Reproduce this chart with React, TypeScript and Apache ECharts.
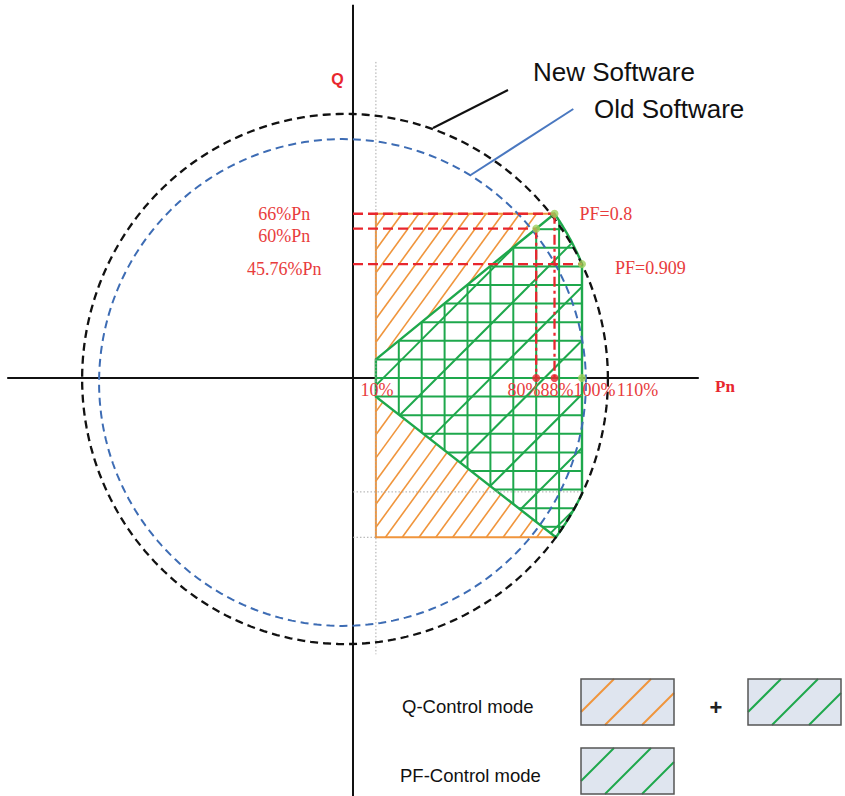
import { useEffect, useRef } from 'react';
import * as echarts from 'echarts';

type Pt = [number, number];

// ---------------- data (all values in % of Pn) ----------------
const xExtent = [-154.15, 214.85];
const yExtent = [-167.94, 151.87];
const pAxisExtent = [-151, 151];
const qAxisExtent = [-168, 150];

const pTickValues = [10, 80, 88, 100, 110];
const pTickLabels = ['10%', '80%', '88%', '100%', '110%'];

const qLevelValues = [66, 60, 45.76];
const qLevelPEnds = [88, 80, 100];
const qLevelLabels = ['66%Pn', '60%Pn', '45.76%Pn'];
const qLevelLabelP = -30;

const pfPointP = [88, 100];
const pfPointQ = [66, 45.76];
const pfLabels = ['PF=0.8', 'PF=0.909'];

const oldLimitP = [80];
const oldLimitQ = [60];

// Q-control region (box)
const qControlP = [10, 88];
const qControlQ = [-64, 66];

// PF-control region (PF=0.8 lines start at P=10, right edge at P=100)
const pfControlPMin = 10;
const pfControlQAtPMin = [7.5, -7.5];
const pfControlPMax = 100;

// capability circles as drawn: [centre P, centre Q, radius along P, radius along Q]
const newCircle = [-3.49, -0.4, 114.8, 106.5];
const oldCircle = [-4.59, -1.81, 106.3, 97.8];

// dotted guide lines
const guideP = 10;
const guidePSpanQ = [127, -111];
const guideQValues = [-45.76, -64];
const guideQEndsP = [100, 10];

// ---------------- styles ----------------
const COL = {
  axis: '#111111',
  black: '#111111',
  blue: '#3d6cb4',
  red: '#e8262e',
  redText: '#e83c3c',
  orange: '#f0953c',
  green: '#1ea84c',
  dotGreen: '#9fd05a',
  grey: '#a9a9a9',
  legendFill: '#dfe5ef',
  legendStroke: '#555555',
};
const SERIF = '"Liberation Serif", "Times New Roman", serif';
const LABEL_FONT = `18px ${SERIF}`;
const TICK_FONT = `18px ${SERIF}`;
const SANS = '"Liberation Sans", Arial, sans-serif';
const pTickLabelDx = [1, -12.2, 2.5, 12.5, 32.6];
const qLevelLabelDy = [0, 7, 5];
const pfLabelOffset: Pt[] = [[25, 0], [33, 4]];

// ---------------- geometry helpers ----------------
function clipToConvex(p0: Pt, p1: Pt, poly: Pt[]): [Pt, Pt] | null {
  let area = 0;
  const n = poly.length;
  for (let i = 0; i < n; i++) {
    const a = poly[i], b = poly[(i + 1) % n];
    area += a[0] * b[1] - b[0] * a[1];
  }
  const s = area > 0 ? 1 : -1;
  const d = [p1[0] - p0[0], p1[1] - p0[1]];
  let tE = 0, tL = 1;
  for (let i = 0; i < n; i++) {
    const a = poly[i], b = poly[(i + 1) % n];
    const nx = -s * (b[1] - a[1]);
    const ny = s * (b[0] - a[0]);
    const num = nx * (p0[0] - a[0]) + ny * (p0[1] - a[1]);
    const den = nx * d[0] + ny * d[1];
    if (Math.abs(den) < 1e-9) {
      if (num < 0) return null;
      continue;
    }
    const t = -num / den;
    if (den > 0) tE = Math.max(tE, t);
    else tL = Math.min(tL, t);
    if (tE > tL) return null;
  }
  return [
    [p0[0] + tE * d[0], p0[1] + tE * d[1]],
    [p0[0] + tL * d[0], p0[1] + tL * d[1]],
  ];
}

function hatch(poly: Pt[], angleDeg: number, spacing: number, anchor: Pt): [Pt, Pt][] {
  const th = (angleDeg * Math.PI) / 180;
  const d: Pt = [Math.cos(th), -Math.sin(th)];
  const m: Pt = [Math.sin(th), Math.cos(th)];
  const proj = poly.map((p) => p[0] * m[0] + p[1] * m[1]);
  const cmin = Math.min(...proj), cmax = Math.max(...proj);
  const c0 = anchor[0] * m[0] + anchor[1] * m[1];
  const k0 = Math.ceil((cmin - c0) / spacing), k1 = Math.floor((cmax - c0) / spacing);
  const out: [Pt, Pt][] = [];
  const L = 3000;
  for (let k = k0; k <= k1; k++) {
    const c = c0 + k * spacing;
    const base: Pt = [c * m[0], c * m[1]];
    const seg = clipToConvex(
      [base[0] - L * d[0], base[1] - L * d[1]],
      [base[0] + L * d[0], base[1] + L * d[1]],
      poly
    );
    if (seg) out.push(seg);
  }
  return out;
}

const lineEl = (a: Pt, b: Pt, style: any) => ({
  type: 'line',
  shape: { x1: a[0], y1: a[1], x2: b[0], y2: b[1] },
  style,
});

const ellipseData = (c: number[], n = 240): Pt[] => {
  const pts: Pt[] = [];
  for (let i = 0; i < n; i++) {
    const t = (i / n) * Math.PI * 2;
    pts.push([c[0] + c[2] * Math.cos(t), c[1] + c[3] * Math.sin(t)]);
  }
  return pts;
};

const nc = newCircle;
const circleP = (q: number) =>
  nc[0] + nc[2] * Math.sqrt(Math.max(0, 1 - ((q - nc[1]) / nc[3]) ** 2));
const circleQ = (p: number, sign: number) =>
  nc[1] + sign * nc[3] * Math.sqrt(Math.max(0, 1 - ((p - nc[0]) / nc[2]) ** 2));
const arcBetween = (a: Pt, b: Pt, n = 30): Pt[] => {
  const ang = (p: Pt) => Math.atan2((p[1] - nc[1]) / nc[3], (p[0] - nc[0]) / nc[2]);
  const rn = (p: Pt) => Math.hypot((p[0] - nc[0]) / nc[2], (p[1] - nc[1]) / nc[3]);
  const a0 = ang(a), a1 = ang(b), r0 = rn(a), r1 = rn(b);
  const res: Pt[] = [];
  for (let i = 1; i < n; i++) {
    const f = i / n;
    const t = a0 + (a1 - a0) * f;
    const r = r0 + (r1 - r0) * f;
    res.push([nc[0] + r * nc[2] * Math.cos(t), nc[1] + r * nc[3] * Math.sin(t)]);
  }
  return res;
};

function pfPolygonData(): Pt[] {
  const A: Pt = [pfControlPMin, pfControlQAtPMin[0]];
  const B: Pt = [pfPointP[0], pfPointQ[0]];
  const C: Pt = [pfPointP[1], pfPointQ[1]];
  const D: Pt = [pfControlPMax, circleQ(pfControlPMax, -1)];
  const E: Pt = [circleP(qControlQ[0]), qControlQ[0]];
  const F: Pt = [pfControlPMin, pfControlQAtPMin[1]];
  return [A, B, ...arcBetween(B, C), C, D, ...arcBetween(D, E), E, F];
}

// ---------------- render items ----------------
const renderAxes = (_p: any, api: any) => {
  const c = (v: number[]) => api.coord(v);
  const st = { stroke: COL.axis, lineWidth: 2 };
  return {
    type: 'group',
    children: [
      lineEl(c([pAxisExtent[0], 0]), c([pAxisExtent[1], 0]), st),
      lineEl(c([0, qAxisExtent[0]]), c([0, qAxisExtent[1]]), st),
    ],
  };
};

const renderQControl = (_p: any, api: any) => {
  const c = (v: number[]) => api.coord(v) as Pt;
  const xE = circleP(qControlQ[0]);
  const poly: Pt[] = [
    c([qControlP[0], qControlQ[1]]),
    c([qControlP[1], qControlQ[1]]),
    c([xE, qControlQ[0]]),
    c([qControlP[0], qControlQ[0]]),
  ];
  const segs = hatch(poly, 54, 13.6, [376.7, 271.7]);
  const st = { stroke: COL.orange, lineWidth: 1.6 };
  const children: any[] = segs.map((s) => lineEl(s[0], s[1], st));
  children.push({
    type: 'polyline',
    shape: {
      points: [
        c([qControlP[1], qControlQ[1]]),
        c([qControlP[0], qControlQ[1]]),
        c([qControlP[0], qControlQ[0]]),
        c([xE, qControlQ[0]]),
      ],
    },
    style: { stroke: COL.orange, lineWidth: 2, fill: 'none' },
  });
  return { type: 'group', children };
};

const renderPFControl = (_p: any, api: any) => {
  const c = (v: number[]) => api.coord(v) as Pt;
  const poly = pfPolygonData().map(c);
  const x10 = c([pfControlPMin, 0])[0];
  const x100 = c([pfControlPMax, 0])[0];
  const y0 = c([0, 0])[1];
  const st = { stroke: COL.green, lineWidth: 2 };
  const children: any[] = [
    { type: 'polygon', shape: { points: poly }, style: { fill: '#ffffff', stroke: 'none' } },
  ];
  const fams = [
    hatch(poly, 90, (x100 - x10) / 9, [x10, 0]),
    hatch(poly, 0, 18.6, [0, y0]),
    hatch(poly, 45, 38, [430, 385]),
  ];
  fams.forEach((f) => f.forEach((s) => children.push(lineEl(s[0], s[1], st))));
  children.push({
    type: 'polygon',
    shape: { points: poly },
    style: { fill: 'none', stroke: COL.green, lineWidth: 2.4 },
  });
  return { type: 'group', children };
};

const renderGuides = (_p: any, api: any) => {
  const c = (v: number[]) => api.coord(v) as Pt;
  const st = { stroke: COL.grey, lineWidth: 1, lineDash: [1.5, 2] };
  const children: any[] = [lineEl(c([guideP, guidePSpanQ[0]]), c([guideP, guidePSpanQ[1]]), st)];
  guideQValues.forEach((q, i) => children.push(lineEl(c([0, q]), c([guideQEndsP[i], q]), st)));
  return { type: 'group', children };
};

const renderCircles = (_p: any, api: any) => {
  const c = (v: number[]) => api.coord(v) as Pt;
  return {
    type: 'group',
    children: [
      {
        type: 'polygon',
        shape: { points: ellipseData(oldCircle).map(c) },
        style: { fill: 'none', stroke: COL.blue, lineWidth: 2, lineDash: [8, 5] },
      },
      {
        type: 'polygon',
        shape: { points: ellipseData(newCircle).map(c) },
        style: { fill: 'none', stroke: COL.black, lineWidth: 2.3, lineDash: [8, 5] },
      },
    ],
  };
};

const renderRedLines = (_p: any, api: any) => {
  const c = (v: number[]) => api.coord(v) as Pt;
  const dash = { stroke: COL.red, lineWidth: 2.3, lineDash: [10, 5] };
  const dashDot = { stroke: COL.red, lineWidth: 2.3, lineDash: [10, 4, 3, 4] };
  const children: any[] = qLevelValues.map((q, i) => lineEl(c([0, q]), c([qLevelPEnds[i], q]), dash));
  children.push(lineEl(c([oldLimitP[0], oldLimitQ[0]]), c([oldLimitP[0], 0]), dashDot));
  children.push(lineEl(c([pfPointP[0], pfPointQ[0]]), c([pfPointP[0], 0]), dashDot));
  return { type: 'group', children };
};

const renderLabels = (_p: any, api: any) => {
  const c = (v: number[]) => api.coord(v) as Pt;
  const txt = (x: number, y: number, text: string, align: string, font: string) => ({
    type: 'text',
    x,
    y,
    style: {
      text,
      fill: COL.redText,
      font,
      align,
      verticalAlign: 'middle',
      textAlign: align,
      textVerticalAlign: 'middle',
    },
  });
  const children: any[] = [];
  pTickValues.forEach((v, i) => {
    const p = c([v, 0]);
    children.push(txt(p[0] + pTickLabelDx[i], p[1] + 12, pTickLabels[i], 'center', TICK_FONT));
  });
  qLevelValues.forEach((q, i) => {
    const p = c([qLevelLabelP, q]);
    children.push(txt(p[0], p[1] + qLevelLabelDy[i], qLevelLabels[i], 'center', LABEL_FONT));
  });
  pfLabels.forEach((l, i) => {
    const p = c([pfPointP[i], pfPointQ[i]]);
    children.push(txt(p[0] + pfLabelOffset[i][0], p[1] + pfLabelOffset[i][1], l, 'left', LABEL_FONT));
  });
  return { type: 'group', children };
};

const custom = (name: string, z: number, renderItem: any) => ({
  type: 'custom',
  name,
  z,
  silent: true,
  clip: false,
  data: [[0, 0]],
  renderItem,
});

// ---------------- legend & annotations (layout) ----------------
const legendBox = (x: number, y: number, stroke: string) => {
  const w = 93, h = 46;
  const children: any[] = [
    { type: 'rect', shape: { x, y, width: w, height: h }, style: { fill: COL.legendFill, stroke: 'none' } },
  ];
  [33, 70, 107].forEach((r) => {
    const a: Pt = r <= h ? [0, r] : [r - h, h];
    const b: Pt = r <= w ? [r, 0] : [w, r - w];
    children.push({
      type: 'line',
      shape: { x1: x + a[0], y1: y + a[1], x2: x + b[0], y2: y + b[1] },
      style: { stroke, lineWidth: 2 },
    });
  });
  children.push({
    type: 'rect',
    shape: { x, y, width: w, height: h },
    style: { fill: 'none', stroke: COL.legendStroke, lineWidth: 1.5 },
  });
  return { type: 'group', children };
};

const gText = (x: number, y: number, text: string, font: string, fill: string, align = 'left') => ({
  type: 'text',
  x,
  y,
  z: 100,
  style: { text, font, fill, align, verticalAlign: 'middle', textAlign: align, textVerticalAlign: 'middle' },
});

const graphics = [
  gText(337.5, 79, 'Q', `bold 16px ${SANS}`, COL.red, 'center'),
  gText(725, 386.5, 'Pn', `bold 17px ${SERIF}`, COL.red, 'center'),
  { type: 'line', z: 100, shape: { x1: 433, y1: 128, x2: 508, y2: 90 }, style: { stroke: '#111', lineWidth: 2 } },
  { type: 'line', z: 100, shape: { x1: 470.7, y1: 175, x2: 573.3, y2: 109 }, style: { stroke: '#4a78c0', lineWidth: 2 } },
  gText(533, 72, 'New Software', `26px ${SANS}`, '#111'),
  gText(594, 108.5, 'Old Software', `26px ${SANS}`, '#111'),
  gText(402, 706.5, 'Q-Control mode', `18.5px ${SANS}`, '#111'),
  gText(400, 775.5, 'PF-Control mode', `18.5px ${SANS}`, '#111'),
  gText(716, 707, '+', `bold 22px ${SANS}`, '#222', 'center'),
  { ...legendBox(581, 679, COL.orange), z: 100 },
  { ...legendBox(748, 679, COL.green), z: 100 },
  { ...legendBox(581, 748, COL.green), z: 100 },
];

const option: any = {
  animation: false,
  grid: { left: 0, right: 0, top: 0, bottom: 0 },
  xAxis: { type: 'value', min: xExtent[0], max: xExtent[1], show: false },
  yAxis: { type: 'value', min: yExtent[0], max: yExtent[1], show: false },
  graphic: graphics,
  series: [
    custom('axes', 1, renderAxes),
    custom('Q-Control', 2, renderQControl),
    custom('PF-Control', 3, renderPFControl),
    custom('guides', 4, renderGuides),
    custom('circles', 5, renderCircles),
    custom('levels', 6, renderRedLines),
    {
      type: 'scatter',
      name: 'axis points',
      z: 7,
      silent: true,
      symbolSize: 8,
      itemStyle: { color: COL.red },
      data: [
        [oldLimitP[0], 0],
        [pfPointP[0], 0],
      ],
    },
    {
      type: 'scatter',
      name: 'limit points',
      z: 7,
      silent: true,
      symbolSize: 8,
      itemStyle: { color: COL.dotGreen },
      data: [
        [pfPointP[0], pfPointQ[0]],
        [oldLimitP[0], oldLimitQ[0]],
        [pfPointP[1], pfPointQ[1]],
        [pfControlPMax, 0],
      ],
    },
    custom('labels', 8, renderLabels),
  ],
};

export default function App() {
  const ref = useRef<HTMLDivElement>(null);
  useEffect(() => {
    const chart = echarts.init(ref.current!, null, { renderer: 'svg' });
    chart.setOption(option);
    return () => chart.dispose();
  }, []);
  return (
    <div
      ref={ref}
      style={{ position: 'fixed', left: 0, top: 0, width: 845, height: 796, background: '#ffffff' }}
    />
  );
}
